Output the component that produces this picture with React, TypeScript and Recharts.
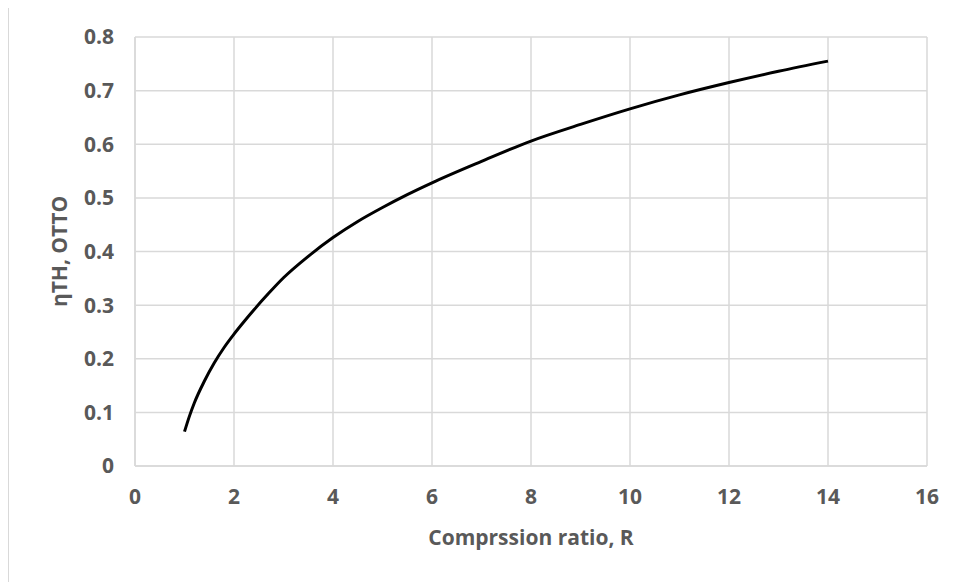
import React from "react"
import { LineChart, Line, XAxis, YAxis, CartesianGrid, Label } from "recharts"

// compression ratio R and Otto thermal efficiency
const ratio = [1, 1.1, 1.2, 1.4, 1.6, 1.8, 2, 2.2, 2.4, 2.7, 3, 3.5, 4, 4.5, 5, 5.5, 6, 7, 8, 9, 10, 11, 12, 13, 14]
const efficiency = [
  0.064, 0.093, 0.118, 0.158, 0.192, 0.221, 0.246, 0.269, 0.291, 0.322, 0.351, 0.391, 0.426, 0.456, 0.482,
  0.506, 0.528, 0.568, 0.606, 0.637, 0.666, 0.692, 0.715, 0.736, 0.755,
]
const xTicks = [0, 2, 4, 6, 8, 10, 12, 14, 16]
const yTicks = [0, 0.1, 0.2, 0.3, 0.4, 0.5, 0.6, 0.7, 0.8]

const data = ratio.map((r, i) => ({ r, eta: efficiency[i] }))

const FONT = "'Open Sans', 'DejaVu Sans', sans-serif"
const TEXT = "#595959"
const GRID = "#d9d9d9"

const tickStyle = { fill: TEXT, fontSize: 21, fontWeight: 700, fontFamily: FONT }

const YTitle = (props: any) => {
  const vb = props.viewBox
  const x = vb.x + 50
  const y = vb.y + vb.height / 2
  return (
    <text
      x={x}
      y={y}
      transform={`rotate(-90, ${x}, ${y})`}
      textAnchor="middle"
      dominantBaseline="central"
      fill={TEXT}
      fontSize={21}
      fontWeight={700}
      fontFamily={FONT}
    >
      ηTH, OTTO
    </text>
  )
}

const XTitle = (props: any) => {
  const vb = props.viewBox
  return (
    <text
      x={vb.x + vb.width / 2}
      y={vb.y + 79}
      textAnchor="middle"
      fill={TEXT}
      fontSize={21}
      fontWeight={700}
      fontFamily={FONT}
    >
      Comprssion ratio, R
    </text>
  )
}

export default function App() {
  return (
    <div
      style={{
        marginTop: -1,
        width: 1000,
        height: 620,
        border: `1px solid ${GRID}`,
        boxSizing: "border-box",
        background: "#fff",
      }}
    >
      <LineChart width={950} height={574} data={data} margin={{ top: 29, right: 32, left: 0, bottom: 26 }}>
        <CartesianGrid stroke={GRID} strokeWidth={1.5} />
        <XAxis
          dataKey="r"
          type="number"
          domain={[0, 16]}
          ticks={xTicks}
          interval={0}
          height={90}
          tickLine={false}
          axisLine={{ stroke: GRID, strokeWidth: 1.5 }}
          tick={tickStyle}
          tickMargin={17}
        >
          <Label content={XTitle} />
        </XAxis>
        <YAxis
          type="number"
          domain={[0, 0.8]}
          ticks={yTicks}
          interval={0}
          width={126}
          tickLine={false}
          axisLine={{ stroke: GRID, strokeWidth: 1.5 }}
          tick={tickStyle}
          tickMargin={15}
        >
          <Label content={YTitle} />
        </YAxis>
        <Line
          dataKey="eta"
          type="monotone"
          stroke="#000"
          strokeWidth={3}
          dot={false}
          isAnimationActive={false}
        />
      </LineChart>
    </div>
  )
}
